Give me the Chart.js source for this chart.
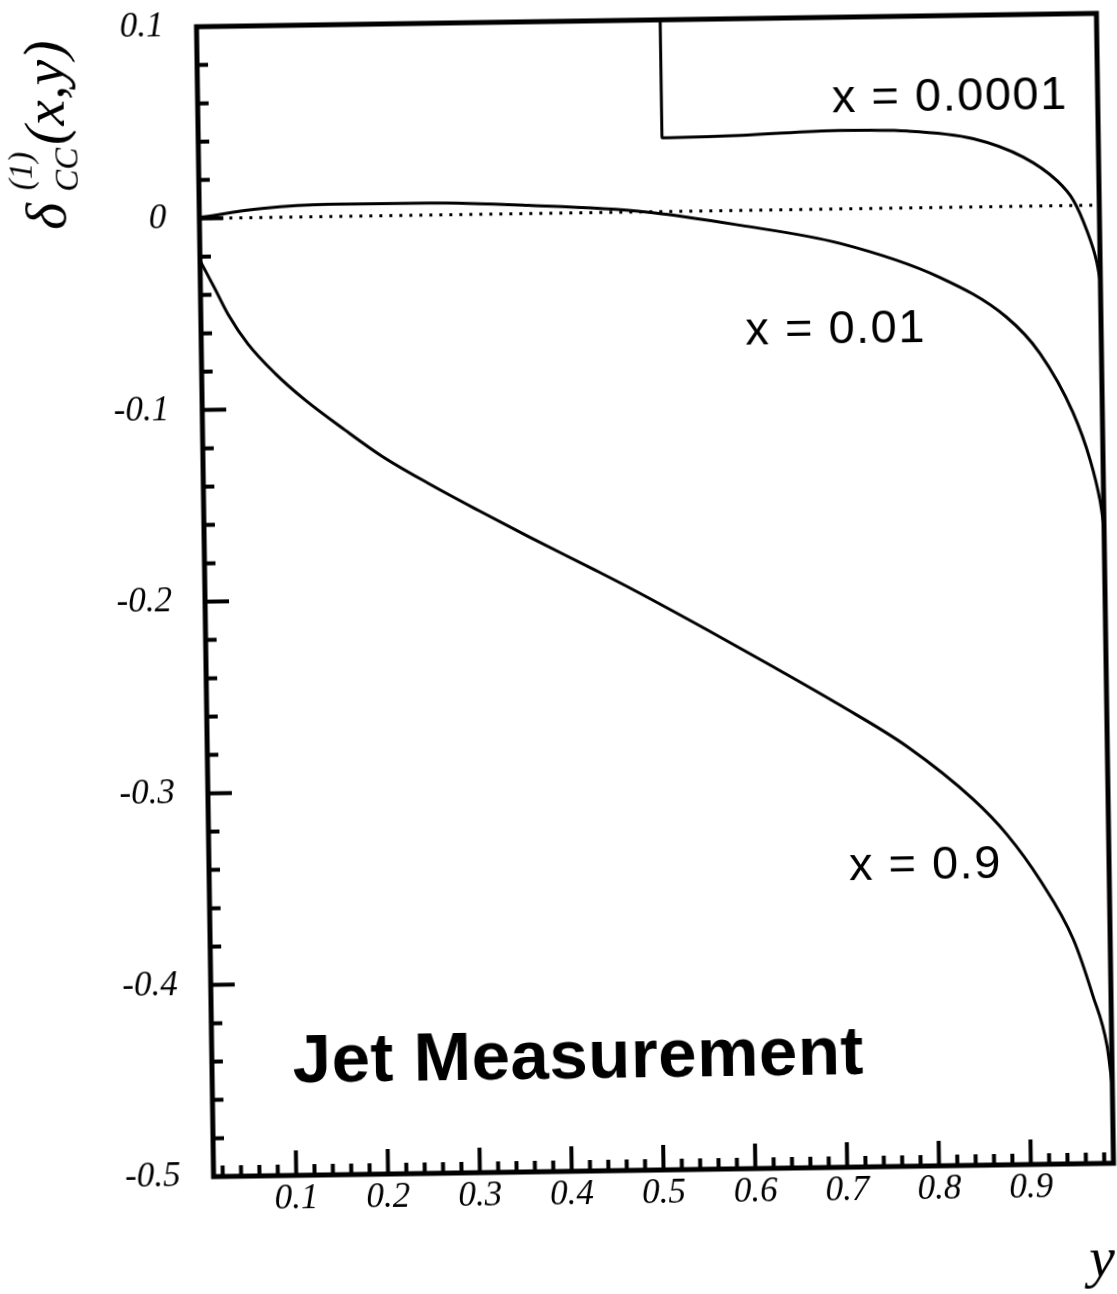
<!DOCTYPE html>
<html>
<head>
<meta charset="utf-8">
<title>Jet Measurement</title>
<script src="https://cdn.jsdelivr.net/npm/chart.js@4.4.1/dist/chart.umd.min.js"></script>
<style>
  html, body { margin: 0; padding: 0; background: #fff; overflow: hidden; }
  #wrap { position: relative; width: 1117px; height: 1294px; overflow: hidden; background: #fff; }
  /* the printed figure sits slightly askew on the page */
  #plot { position: absolute; left: 0; top: 0; transform: rotate(-0.85deg); transform-origin: 655px 595px; }
</style>
</head>
<body>
<div id="wrap"><canvas id="plot" width="1140" height="1320"></canvas></div>
<script>
// horizontal axis: inelasticity y, vertical axis: delta_CC^(1)(x, y)

// x = 0.0001 — only above the kinematic cut near y = 0.515
const y_x0001 = [0.5149, 0.515, 0.600, 0.709, 0.782, 0.854, 0.908, 0.944, 0.962, 0.976, 0.986, 0.99];
const d_x0001 = [0.1, 0.0385, 0.0391, 0.0409, 0.0401, 0.0356, 0.0256, 0.0132, 0.0026, -0.0131, -0.0289, -0.040];

// x = 0.01
const y_x001 = [0.01, 0.078, 0.151, 0.260, 0.368, 0.495, 0.599, 0.707, 0.815, 0.887, 0.923, 0.958, 0.976, 0.986, 0.99];
const d_x001 = [0.0005, 0.0046, 0.0063, 0.0062, 0.0042, 0.0000, -0.0078, -0.018, -0.0365, -0.0577, -0.0769, -0.108, -0.133, -0.154, -0.168];

// x = 0.9
const y_x09 = [0.01, 0.026, 0.040, 0.061, 0.090, 0.122, 0.165, 0.205, 0.255, 0.309, 0.363, 0.435, 0.478, 0.556, 0.628, 0.700, 0.772, 0.843, 0.879, 0.915, 0.950, 0.970, 0.985, 0.99];
const d_x09 = [-0.022, -0.037, -0.0505, -0.066, -0.0815, -0.0955, -0.1115, -0.1255, -0.140, -0.1545, -0.1685, -0.1865, -0.1975, -0.2185, -0.2385, -0.259, -0.281, -0.309, -0.3275, -0.352, -0.383, -0.412, -0.439, -0.46];

// zero reference line
const y_zero = [0.01, 0.99];
const d_zero = [0, 0];

// axis ticks
const xTickValues = [0.1, 0.2, 0.3, 0.4, 0.5, 0.6, 0.7, 0.8, 0.9];
const xTickLabels = ['0.1', '0.2', '0.3', '0.4', '0.5', '0.6', '0.7', '0.8', '0.9'];
const yTickValues = [0.1, 0, -0.1, -0.2, -0.3, -0.4, -0.5];
const yTickLabels = ['0.1', '0', '-0.1', '-0.2', '-0.3', '-0.4', '-0.5'];

const panelTitle = 'Jet Measurement';
const seriesNames = ['x = 0.0001', 'x = 0.01', 'x = 0.9'];

// where the curve names sit, in axis units
const namePos = [
  { y: 0.829, d: 0.0505 },
  { y: 0.701, d: -0.070 },
  { y: 0.790, d: -0.350 },
];

const pts = (xs, ys) => xs.map((v, i) => ({ x: v, y: ys[i] }));

const serif = '"Liberation Serif", "Times New Roman", serif';
const sans = '"Liberation Sans", Arial, sans-serif';
const tickFont = { family: serif, style: 'italic', size: 35, lineHeight: 1 };

// inward tick marks plus the closed frame
const frameTicks = {
  id: 'frameTicks',
  afterDatasetsDraw(chart) {
    const { ctx, chartArea: a, scales: { x, y } } = chart;
    ctx.save();
    ctx.strokeStyle = '#000';
    ctx.lineWidth = 4;
    ctx.beginPath();
    for (let i = 1; i < 50; i++) {
      const px = x.getPixelForValue(i / 50);
      ctx.moveTo(px, a.bottom);
      ctx.lineTo(px, a.bottom - (i % 5 === 0 ? 25 : 11));
    }
    for (let i = -25; i <= 5; i++) {
      const py = y.getPixelForValue(i / 50);
      ctx.moveTo(a.left, py);
      ctx.lineTo(a.left + (i % 5 === 0 ? 24 : 11), py);
    }
    ctx.stroke();
    ctx.lineWidth = 5;
    ctx.strokeRect(a.left, a.top, a.right - a.left, a.bottom - a.top);
    ctx.restore();
  }
};

// curve names, panel title and axis titles
const textLayer = {
  id: 'textLayer',
  afterDraw(chart) {
    const { ctx, chartArea: a, scales: { x, y } } = chart;
    ctx.save();
    ctx.fillStyle = '#000';
    ctx.textAlign = 'center';
    ctx.textBaseline = 'alphabetic';

    ctx.font = '47px ' + sans;
    ctx.letterSpacing = '1.5px';
    namePos.forEach((p, i) => {
      ctx.fillText(seriesNames[i], x.getPixelForValue(p.y), y.getPixelForValue(p.d));
    });

    ctx.font = 'bold 69px ' + sans;
    ctx.letterSpacing = '0.5px';
    ctx.fillText(panelTitle, x.getPixelForValue(0.409), y.getPixelForValue(-0.4514));
    ctx.letterSpacing = '0px';

    // horizontal axis title
    ctx.font = 'italic 58px ' + serif;
    ctx.fillText('y', a.right - 13, a.bottom + 113);

    // vertical axis title, reading upwards
    ctx.translate(a.left - 134, a.top + 201);
    ctx.rotate(-Math.PI / 2);
    ctx.textAlign = 'left';
    ctx.font = 'italic 58px ' + serif;
    ctx.fillText('δ', 0, 0);
    ctx.font = 'italic 33px ' + serif;
    ctx.fillText('(1)', 40, -33);
    ctx.fillText('CC', 38, 13);
    ctx.font = 'italic 58px ' + serif;
    ctx.fillText('(x,y)', 85, 0);
    ctx.restore();
  }
};

const line = { showLine: true, borderColor: '#000', borderWidth: 3, pointRadius: 0, fill: false, cubicInterpolationMode: 'monotone' };

// tick marks are drawn by frameTicks; the hidden grid ticks only set the label gap
const hiddenTicks = (len) => ({ display: true, drawOnChartArea: false, drawTicks: true, tickLength: len, tickColor: 'rgba(0,0,0,0)' });

new Chart(document.getElementById('plot'), {
  type: 'scatter',
  data: {
    datasets: [
      { label: seriesNames[0], data: pts(y_x0001, d_x0001), ...line },
      { label: seriesNames[1], data: pts(y_x001, d_x001), ...line },
      { label: seriesNames[2], data: pts(y_x09, d_x09), ...line },
      { label: 'zero', data: pts(y_zero, d_zero), ...line, borderWidth: 3, borderDash: [3, 7] },
    ]
  },
  options: {
    responsive: false,
    animation: false,
    events: [],
    layout: { padding: { top: 20, right: 35, left: 0, bottom: 0 } },
    plugins: { legend: { display: false }, tooltip: { enabled: false } },
    scales: {
      x: {
        type: 'linear', min: 0.01, max: 0.99,
        grid: hiddenTicks(6),
        border: { display: false },
        afterBuildTicks: (axis) => { axis.ticks = xTickValues.map(v => ({ value: v })); },
        afterFit: (s) => { s.height = 150; },
        ticks: { font: tickFont, color: '#000', padding: 0, maxRotation: 0, autoSkip: false,
                 callback: (v, i) => xTickLabels[i] }
      },
      y: {
        type: 'linear', min: -0.5, max: 0.1,
        grid: hiddenTicks(33),
        border: { display: false },
        afterBuildTicks: (axis) => { axis.ticks = yTickValues.map(v => ({ value: v })); },
        afterFit: (s) => { s.width = 205; },
        ticks: { font: tickFont, color: '#000', padding: 0, autoSkip: false,
                 callback: (v, i) => yTickLabels[i] }
      }
    }
  },
  plugins: [frameTicks, textLayer]
});
</script>
</body>
</html>
